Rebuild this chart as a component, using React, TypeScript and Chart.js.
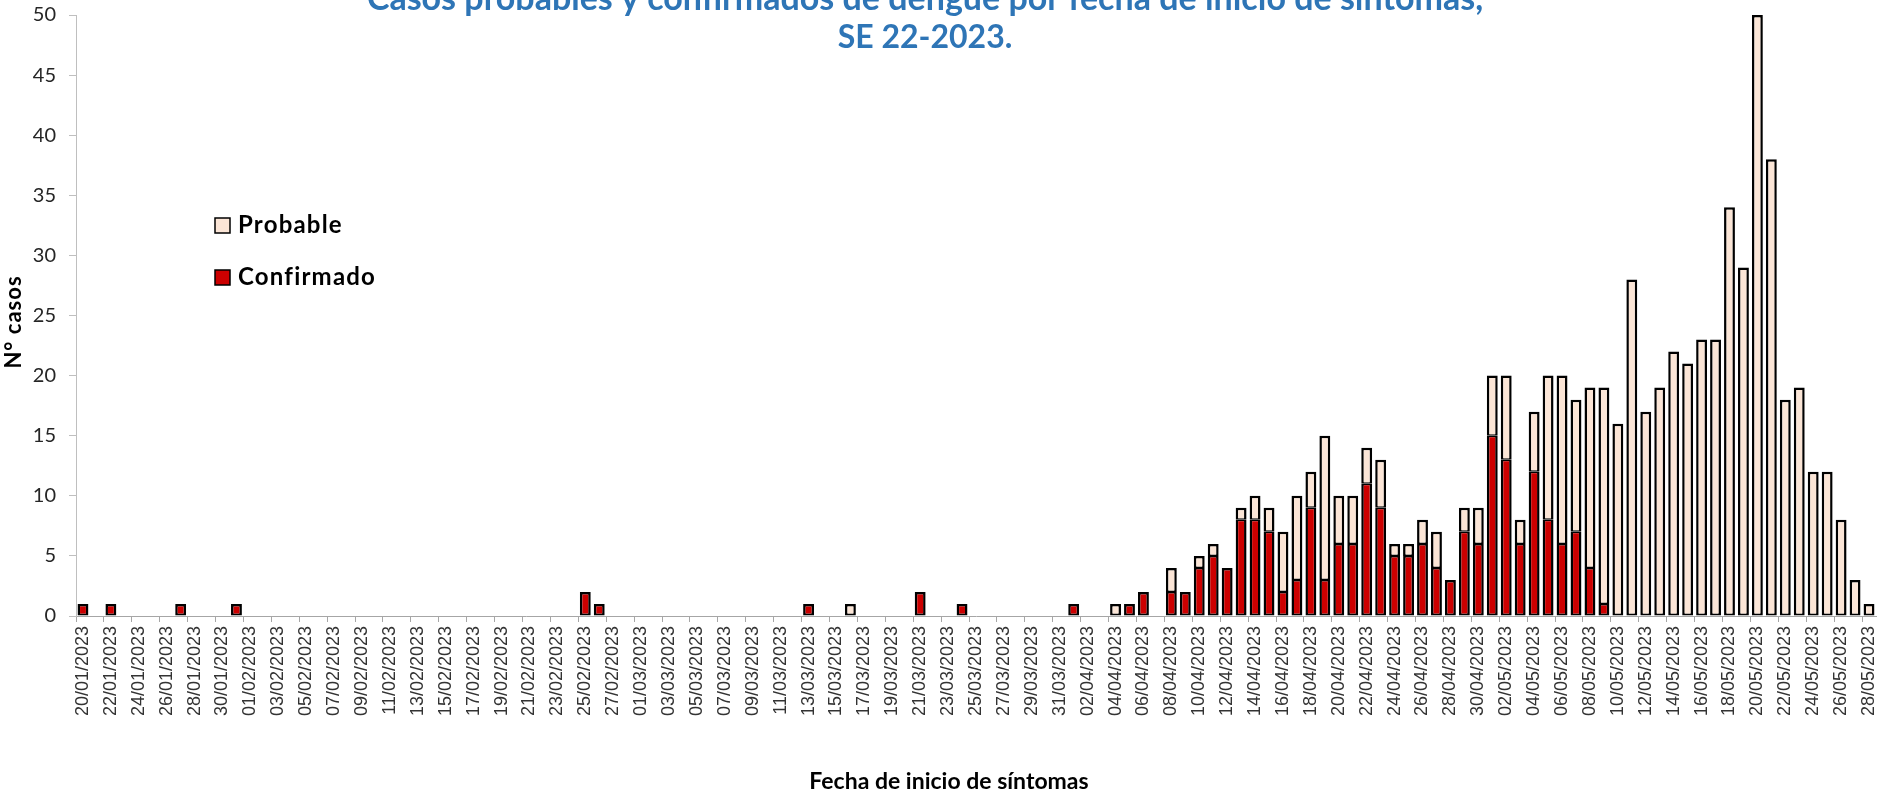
import { useEffect, useRef } from 'react';
import { Chart, registerables } from 'chart.js';

Chart.register(...registerables);

// ---------- Data ----------
const monthDays = (from: number, to: number, mm: string): string[] => {
  const out: string[] = [];
  for (let d = from; d <= to; d++) out.push(`${String(d).padStart(2, '0')}/${mm}/2023`);
  return out;
};

const categories: string[] = [
  ...monthDays(20, 31, '01'),
  ...monthDays(1, 28, '02'),
  ...monthDays(1, 31, '03'),
  ...monthDays(1, 30, '04'),
  ...monthDays(1, 28, '05'),
];

const confirmado: number[] = [
  1, 0, 1, 0, 0, 0, 0, 1, 0, 0,
  0, 1, 0, 0, 0, 0, 0, 0, 0, 0,
  0, 0, 0, 0, 0, 0, 0, 0, 0, 0,
  0, 0, 0, 0, 0, 0, 2, 1, 0, 0,
  0, 0, 0, 0, 0, 0, 0, 0, 0, 0,
  0, 0, 1, 0, 0, 0, 0, 0, 0, 0,
  2, 0, 0, 1, 0, 0, 0, 0, 0, 0,
  0, 1, 0, 0, 0, 1, 2, 0, 2, 2,
  4, 5, 4, 8, 8, 7, 2, 3, 9, 3,
  6, 6, 11, 9, 5, 5, 6, 4, 3, 7,
  6, 15, 13, 6, 12, 8, 6, 7, 4, 1,
  0, 0, 0, 0, 0, 0, 0, 0, 0, 0,
  0, 0, 0, 0, 0, 0, 0, 0, 0,
];

const probable: number[] = [
  0, 0, 0, 0, 0, 0, 0, 0, 0, 0,
  0, 0, 0, 0, 0, 0, 0, 0, 0, 0,
  0, 0, 0, 0, 0, 0, 0, 0, 0, 0,
  0, 0, 0, 0, 0, 0, 0, 0, 0, 0,
  0, 0, 0, 0, 0, 0, 0, 0, 0, 0,
  0, 0, 0, 0, 0, 1, 0, 0, 0, 0,
  0, 0, 0, 0, 0, 0, 0, 0, 0, 0,
  0, 0, 0, 0, 1, 0, 0, 0, 2, 0,
  1, 1, 0, 1, 2, 2, 5, 7, 3, 12,
  4, 4, 3, 4, 1, 1, 2, 3, 0, 2,
  3, 5, 7, 2, 5, 12, 14, 11, 15, 18,
  16, 28, 17, 19, 22, 21, 23, 23, 34, 29,
  50, 38, 18, 19, 12, 12, 8, 3, 1,
];

const titleLines: string[] = [
  'Casos probables y confirmados de dengue por fecha de inicio de síntomas,',
  'SE 22-2023.',
];
const seriesNames: string[] = ['Probable', 'Confirmado'];
const yTitle = 'N° casos';
const xTitle = 'Fecha de inicio de síntomas';

const COLOR_CONF = '#CC0000';
const COLOR_PROB = '#FBE5D6';
const TITLE_COLOR = '#2E75B6';

const overlayPlugin = {
  id: 'overlay',
  afterDraw(chart: any) {
    const ctx = chart.ctx as any;
    ctx.save();
    // Title
    ctx.fillStyle = TITLE_COLOR;
    ctx.textAlign = 'center';
    ctx.textBaseline = 'alphabetic';
    ctx.font = 'bold 34px Lato';
    ctx.fillText(titleLines[0], 925, 10);
    ctx.font = 'bold 32px Lato';
    ctx.fillText(titleLines[1], 925, 48);

    // Axis titles
    ctx.fillStyle = '#000';
    ctx.font = 'bold 23px Lato';
    ctx.fillText(xTitle, 949, 789);
    ctx.save();
    ctx.translate(14, 322);
    ctx.rotate(-Math.PI / 2);
    ctx.font = 'bold 22px Lato';
    ctx.letterSpacing = '1px';
    ctx.textBaseline = 'middle';
    ctx.fillText(yTitle, 0, 0);
    ctx.restore();

    // Legend
    const items = [
      { name: seriesNames[0], color: COLOR_PROB, y: 218 },
      { name: seriesNames[1], color: COLOR_CONF, y: 270 },
    ];
    ctx.textAlign = 'left';
    ctx.textBaseline = 'alphabetic';
    ctx.font = 'bold 24px Lato';
    ctx.letterSpacing = '1.2px';
    items.forEach((it) => {
      ctx.fillStyle = it.color;
      ctx.fillRect(215, it.y, 15, 15);
      ctx.lineWidth = 1.5;
      ctx.strokeStyle = '#000';
      ctx.strokeRect(215, it.y, 15, 15);
      ctx.fillStyle = '#000';
      ctx.fillText(it.name, 238, it.y + 15);
    });
    ctx.restore();
  },
};

export default function App() {
  const canvasRef = useRef<HTMLCanvasElement | null>(null);

  useEffect(() => {
    document.body.style.margin = '0';
    document.body.style.overflow = 'hidden';
    let chart: Chart | null = null;
    let cancelled = false;

    const make = () => {
      if (cancelled || !canvasRef.current) return;
      const confData = confirmado.map((v) => (v === 0 ? null : v));
      const probData = probable.map((v) => (v === 0 ? null : v));
      chart = new Chart(canvasRef.current, {
        type: 'bar',
        data: {
          labels: categories,
          datasets: [
            {
              label: seriesNames[1],
              data: confData as any,
              backgroundColor: COLOR_CONF,
              borderColor: '#000',
              borderWidth: (c: any) => ({
                top: probable[c.dataIndex] > 0 ? 1.5 : 2.5,
                left: 2.5,
                right: 2.5,
                bottom: 2,
              }),
              borderSkipped: false,
              barPercentage: 0.78,
              categoryPercentage: 1,
            },
            {
              label: seriesNames[0],
              data: probData as any,
              backgroundColor: COLOR_PROB,
              borderColor: '#000',
              borderWidth: (c: any) => ({
                top: 2.5,
                left: 2.5,
                right: 2.5,
                bottom: confirmado[c.dataIndex] > 0 ? 1.5 : 2,
              }),
              borderSkipped: false,
              barPercentage: 0.78,
              categoryPercentage: 1,
            },
          ],
        },
        options: {
          responsive: false,
          animation: false,
          layout: { padding: { top: 15, right: 7, left: 0, bottom: 0 } },
          plugins: {
            legend: { display: false },
            title: { display: false },
            tooltip: { enabled: false },
          },
          scales: {
            x: {
              stacked: true,
              offset: true,
              afterFit: (s: any) => {
                s.height = 176;
                s.paddingLeft = 0;
                s.paddingRight = 0;
              },
              grid: {
                offset: true,
                drawOnChartArea: false,
                drawTicks: true,
                tickLength: 6,
                color: (c: any) => (c.index % 2 === 0 ? '#A6A6A6' : 'rgba(0,0,0,0)'),
              },
              border: { display: true, color: '#A6A6A6', width: 1 },
              ticks: {
                autoSkip: false,
                maxRotation: 90,
                minRotation: 90,
                padding: 4,
                color: '#333',
                font: { family: '"Liberation Sans", Arial, sans-serif', size: 18 },
                callback: (_v: any, i: number) => (i % 2 === 0 ? categories[i] : ''),
              },
            },
            y: {
              stacked: true,
              min: 0,
              max: 50,
              afterFit: (s: any) => {
                s.width = 76;
                s.paddingTop = 0;
              },
              grid: {
                drawOnChartArea: false,
                drawTicks: true,
                tickLength: 7,
                color: '#BFBFBF',
              },
              border: { display: true, color: '#BFBFBF', width: 1 },
              ticks: {
                stepSize: 5,
                padding: 13,
                color: '#262626',
                font: { family: 'Lato', size: 20 },
              },
            },
          },
        },
        plugins: [overlayPlugin],
      });
    };

    const fonts: any = (document as any).fonts;
    if (fonts && fonts.load) {
      Promise.all([
        fonts.load('bold 32px Lato'),
        fonts.load('20px Lato'),
        fonts.load('18px "Liberation Sans"'),
      ])
        .catch(() => undefined)
        .then(make);
    } else {
      make();
    }

    return () => {
      cancelled = true;
      if (chart) chart.destroy();
    };
  }, []);

  return (
    <div style={{ width: 1883, height: 792 }}>
      <canvas ref={canvasRef} width={1883} height={792} style={{ display: 'block' }} />
    </div>
  );
}
